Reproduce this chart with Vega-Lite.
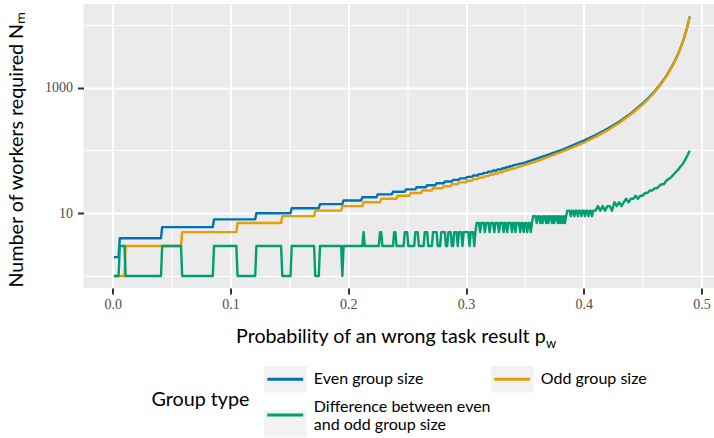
{
  "$schema": "https://vega.github.io/schema/vega-lite/v6.json",
  "width": 631,
  "height": 284,
  "autosize": {"type": "none"},
  "padding": {"left": 83.5, "top": 4, "right": 0, "bottom": 150},
  "background": "white",
  "config": {
    "view": {"fill": "#EBEBEB", "stroke": null},
    "font": "Lato",
    "legend": {
      "orient": "none",
      "legendX": 68,
      "legendY": 361.5,
      "columns": 2,
      "titleOrient": "left",
      "titleAnchor": "middle",
      "titleBaseline": "middle",
      "titleFont": "Lato",
      "titleFontSize": 19.7,
      "titleFontWeight": "normal",
      "titleColor": "black",
      "titlePadding": 14.5,
      "labelFont": "Lato",
      "labelFontSize": 16,
      "labelColor": "black",
      "labelLimit": 400,
      "labelOffset": 15.05,
      "symbolSize": 538,
      "symbolStrokeWidth": 3,
      "symbolOffset": 7.75,
      "columnPadding": -8,
      "rowPadding": 11
    }
  },
  "data": {
    "values": [
      {"p": 0.001, "N": 2, "group": "even"}, {"p": 0.005, "N": 2, "group": "even"},
      {"p": 0.006, "N": 4, "group": "even"}, {"p": 0.041, "N": 4, "group": "even"},
      {"p": 0.042, "N": 6, "group": "even"}, {"p": 0.085, "N": 6, "group": "even"},
      {"p": 0.086, "N": 8, "group": "even"}, {"p": 0.121, "N": 8, "group": "even"},
      {"p": 0.122, "N": 10, "group": "even"}, {"p": 0.151, "N": 10, "group": "even"},
      {"p": 0.152, "N": 12, "group": "even"}, {"p": 0.175, "N": 12, "group": "even"},
      {"p": 0.176, "N": 14, "group": "even"}, {"p": 0.195, "N": 14, "group": "even"},
      {"p": 0.196, "N": 16, "group": "even"}, {"p": 0.211, "N": 16, "group": "even"},
      {"p": 0.212, "N": 18, "group": "even"}, {"p": 0.224, "N": 18, "group": "even"},
      {"p": 0.225, "N": 20, "group": "even"}, {"p": 0.237, "N": 20, "group": "even"},
      {"p": 0.238, "N": 22, "group": "even"}, {"p": 0.248, "N": 22, "group": "even"},
      {"p": 0.249, "N": 24, "group": "even"}, {"p": 0.257, "N": 24, "group": "even"},
      {"p": 0.258, "N": 26, "group": "even"}, {"p": 0.266, "N": 26, "group": "even"},
      {"p": 0.267, "N": 28, "group": "even"}, {"p": 0.274, "N": 28, "group": "even"},
      {"p": 0.275, "N": 30, "group": "even"}, {"p": 0.281, "N": 30, "group": "even"},
      {"p": 0.282, "N": 32, "group": "even"}, {"p": 0.288, "N": 32, "group": "even"},
      {"p": 0.289, "N": 34, "group": "even"}, {"p": 0.294, "N": 34, "group": "even"},
      {"p": 0.295, "N": 36, "group": "even"}, {"p": 0.3, "N": 36, "group": "even"},
      {"p": 0.301, "N": 38, "group": "even"}, {"p": 0.305, "N": 38, "group": "even"},
      {"p": 0.306, "N": 40, "group": "even"}, {"p": 0.31, "N": 40, "group": "even"},
      {"p": 0.311, "N": 42, "group": "even"}, {"p": 0.314, "N": 42, "group": "even"},
      {"p": 0.315, "N": 44, "group": "even"}, {"p": 0.318, "N": 44, "group": "even"},
      {"p": 0.319, "N": 46, "group": "even"}, {"p": 0.322, "N": 46, "group": "even"},
      {"p": 0.323, "N": 48, "group": "even"}, {"p": 0.326, "N": 48, "group": "even"},
      {"p": 0.327, "N": 50, "group": "even"}, {"p": 0.33, "N": 50, "group": "even"},
      {"p": 0.331, "N": 52, "group": "even"}, {"p": 0.333, "N": 52, "group": "even"},
      {"p": 0.334, "N": 54, "group": "even"}, {"p": 0.336, "N": 54, "group": "even"},
      {"p": 0.337, "N": 56, "group": "even"}, {"p": 0.339, "N": 56, "group": "even"},
      {"p": 0.34, "N": 58, "group": "even"},
      {"p": 0.35, "N": 64, "group": "even"},
      {"p": 0.36, "N": 74, "group": "even"},
      {"p": 0.37, "N": 86, "group": "even"},
      {"p": 0.38, "N": 100, "group": "even"},
      {"p": 0.39, "N": 120, "group": "even"},
      {"p": 0.4, "N": 144, "group": "even"},
      {"p": 0.41, "N": 176, "group": "even"},
      {"p": 0.42, "N": 222, "group": "even"},
      {"p": 0.43, "N": 288, "group": "even"},
      {"p": 0.44, "N": 390, "group": "even"},
      {"p": 0.45, "N": 560, "group": "even"},
      {"p": 0.455, "N": 688, "group": "even"},
      {"p": 0.46, "N": 868, "group": "even"},
      {"p": 0.465, "N": 1132, "group": "even"},
      {"p": 0.47, "N": 1534, "group": "even"},
      {"p": 0.475, "N": 2202, "group": "even"},
      {"p": 0.4775, "N": 2716, "group": "even"},
      {"p": 0.48, "N": 3430, "group": "even"},
      {"p": 0.4825, "N": 4474, "group": "even"},
      {"p": 0.485, "N": 6078, "group": "even"},
      {"p": 0.4875, "N": 8736, "group": "even"},
      {"p": 0.49, "N": 13628, "group": "even"},

      {"p": 0.001, "N": 1, "group": "odd"}, {"p": 0.01, "N": 1, "group": "odd"},
      {"p": 0.011, "N": 3, "group": "odd"}, {"p": 0.058, "N": 3, "group": "odd"},
      {"p": 0.059, "N": 5, "group": "odd"}, {"p": 0.105, "N": 5, "group": "odd"},
      {"p": 0.106, "N": 7, "group": "odd"}, {"p": 0.143, "N": 7, "group": "odd"},
      {"p": 0.144, "N": 9, "group": "odd"}, {"p": 0.171, "N": 9, "group": "odd"},
      {"p": 0.172, "N": 11, "group": "odd"}, {"p": 0.194, "N": 11, "group": "odd"},
      {"p": 0.195, "N": 13, "group": "odd"}, {"p": 0.212, "N": 13, "group": "odd"},
      {"p": 0.213, "N": 15, "group": "odd"}, {"p": 0.227, "N": 15, "group": "odd"},
      {"p": 0.228, "N": 17, "group": "odd"}, {"p": 0.241, "N": 17, "group": "odd"},
      {"p": 0.242, "N": 19, "group": "odd"}, {"p": 0.252, "N": 19, "group": "odd"},
      {"p": 0.253, "N": 21, "group": "odd"}, {"p": 0.262, "N": 21, "group": "odd"},
      {"p": 0.263, "N": 23, "group": "odd"}, {"p": 0.271, "N": 23, "group": "odd"},
      {"p": 0.272, "N": 25, "group": "odd"}, {"p": 0.28, "N": 25, "group": "odd"},
      {"p": 0.281, "N": 27, "group": "odd"}, {"p": 0.287, "N": 27, "group": "odd"},
      {"p": 0.288, "N": 29, "group": "odd"}, {"p": 0.293, "N": 29, "group": "odd"},
      {"p": 0.294, "N": 31, "group": "odd"}, {"p": 0.3, "N": 31, "group": "odd"},
      {"p": 0.301, "N": 33, "group": "odd"}, {"p": 0.305, "N": 33, "group": "odd"},
      {"p": 0.306, "N": 35, "group": "odd"}, {"p": 0.31, "N": 35, "group": "odd"},
      {"p": 0.311, "N": 37, "group": "odd"}, {"p": 0.315, "N": 37, "group": "odd"},
      {"p": 0.316, "N": 39, "group": "odd"}, {"p": 0.319, "N": 39, "group": "odd"},
      {"p": 0.32, "N": 41, "group": "odd"}, {"p": 0.323, "N": 41, "group": "odd"},
      {"p": 0.324, "N": 43, "group": "odd"}, {"p": 0.327, "N": 43, "group": "odd"},
      {"p": 0.328, "N": 45, "group": "odd"}, {"p": 0.331, "N": 45, "group": "odd"},
      {"p": 0.332, "N": 47, "group": "odd"}, {"p": 0.334, "N": 47, "group": "odd"},
      {"p": 0.335, "N": 49, "group": "odd"}, {"p": 0.337, "N": 49, "group": "odd"},
      {"p": 0.338, "N": 51, "group": "odd"}, {"p": 0.34, "N": 51, "group": "odd"},
      {"p": 0.35, "N": 59, "group": "odd"},
      {"p": 0.36, "N": 67, "group": "odd"},
      {"p": 0.37, "N": 79, "group": "odd"},
      {"p": 0.38, "N": 93, "group": "odd"},
      {"p": 0.39, "N": 111, "group": "odd"},
      {"p": 0.4, "N": 133, "group": "odd"},
      {"p": 0.41, "N": 165, "group": "odd"},
      {"p": 0.42, "N": 209, "group": "odd"},
      {"p": 0.43, "N": 275, "group": "odd"},
      {"p": 0.44, "N": 375, "group": "odd"},
      {"p": 0.45, "N": 539, "group": "odd"},
      {"p": 0.455, "N": 667, "group": "odd"},
      {"p": 0.46, "N": 845, "group": "odd"},
      {"p": 0.465, "N": 1103, "group": "odd"},
      {"p": 0.47, "N": 1501, "group": "odd"},
      {"p": 0.475, "N": 2163, "group": "odd"},
      {"p": 0.4775, "N": 2671, "group": "odd"},
      {"p": 0.48, "N": 3381, "group": "odd"},
      {"p": 0.4825, "N": 4417, "group": "odd"},
      {"p": 0.485, "N": 6011, "group": "odd"},
      {"p": 0.4875, "N": 8657, "group": "odd"},
      {"p": 0.49, "N": 13527, "group": "odd"},

      {"p": 0.001, "N": 1, "group": "diff"}, {"p": 0.005, "N": 1, "group": "diff"},
      {"p": 0.006, "N": 3, "group": "diff"}, {"p": 0.01, "N": 3, "group": "diff"},
      {"p": 0.011, "N": 1, "group": "diff"}, {"p": 0.041, "N": 1, "group": "diff"},
      {"p": 0.042, "N": 3, "group": "diff"}, {"p": 0.058, "N": 3, "group": "diff"},
      {"p": 0.059, "N": 1, "group": "diff"}, {"p": 0.085, "N": 1, "group": "diff"},
      {"p": 0.086, "N": 3, "group": "diff"}, {"p": 0.105, "N": 3, "group": "diff"},
      {"p": 0.106, "N": 1, "group": "diff"}, {"p": 0.121, "N": 1, "group": "diff"},
      {"p": 0.122, "N": 3, "group": "diff"}, {"p": 0.143, "N": 3, "group": "diff"},
      {"p": 0.144, "N": 1, "group": "diff"}, {"p": 0.151, "N": 1, "group": "diff"},
      {"p": 0.152, "N": 3, "group": "diff"}, {"p": 0.171, "N": 3, "group": "diff"},
      {"p": 0.172, "N": 1, "group": "diff"}, {"p": 0.175, "N": 1, "group": "diff"},
      {"p": 0.176, "N": 3, "group": "diff"}, {"p": 0.194, "N": 3, "group": "diff"},
      {"p": 0.195, "N": 1, "group": "diff"}, {"p": 0.196, "N": 3, "group": "diff"},
      {"p": 0.212, "N": 3, "group": "diff"}, {"p": 0.213, "N": 5, "group": "diff"}, {"p": 0.214, "N": 3, "group": "diff"},
      {"p": 0.226, "N": 3, "group": "diff"}, {"p": 0.227, "N": 5, "group": "diff"}, {"p": 0.228, "N": 5, "group": "diff"}, {"p": 0.229, "N": 3, "group": "diff"},
      {"p": 0.238, "N": 3, "group": "diff"}, {"p": 0.239, "N": 5, "group": "diff"}, {"p": 0.24, "N": 5, "group": "diff"}, {"p": 0.241, "N": 3, "group": "diff"},
      {"p": 0.247, "N": 3, "group": "diff"}, {"p": 0.248, "N": 5, "group": "diff"}, {"p": 0.25, "N": 5, "group": "diff"}, {"p": 0.251, "N": 3, "group": "diff"},
      {"p": 0.256, "N": 3, "group": "diff"}, {"p": 0.257, "N": 5, "group": "diff"}, {"p": 0.259, "N": 5, "group": "diff"}, {"p": 0.26, "N": 3, "group": "diff"},
      {"p": 0.264, "N": 3, "group": "diff"}, {"p": 0.265, "N": 5, "group": "diff"}, {"p": 0.267, "N": 5, "group": "diff"}, {"p": 0.268, "N": 3, "group": "diff"},
      {"p": 0.271, "N": 3, "group": "diff"}, {"p": 0.272, "N": 5, "group": "diff"}, {"p": 0.275, "N": 5, "group": "diff"}, {"p": 0.276, "N": 3, "group": "diff"},
      {"p": 0.278, "N": 3, "group": "diff"}, {"p": 0.279, "N": 5, "group": "diff"}, {"p": 0.282, "N": 5, "group": "diff"}, {"p": 0.283, "N": 3, "group": "diff"},
      {"p": 0.284, "N": 3, "group": "diff"}, {"p": 0.285, "N": 5, "group": "diff"}, {"p": 0.287, "N": 5, "group": "diff"}, {"p": 0.288, "N": 3, "group": "diff"},
      {"p": 0.289, "N": 3, "group": "diff"}, {"p": 0.29, "N": 5, "group": "diff"},
      {"p": 0.292, "N": 5, "group": "diff"}, {"p": 0.293, "N": 3, "group": "diff"}, {"p": 0.294, "N": 5, "group": "diff"},
      {"p": 0.296, "N": 5, "group": "diff"}, {"p": 0.297, "N": 3, "group": "diff"}, {"p": 0.298, "N": 5, "group": "diff"},
      {"p": 0.302, "N": 5, "group": "diff"}, {"p": 0.303, "N": 3, "group": "diff"}, {"p": 0.304, "N": 5, "group": "diff"},
      {"p": 0.306, "N": 5, "group": "diff"}, {"p": 0.307, "N": 3, "group": "diff"}, {"p": 0.308, "N": 5, "group": "diff"},
      {"p": 0.309, "N": 7, "group": "diff"},
      {"p": 0.311, "N": 7, "group": "diff"}, {"p": 0.312, "N": 5, "group": "diff"}, {"p": 0.313, "N": 7, "group": "diff"},
      {"p": 0.315, "N": 7, "group": "diff"}, {"p": 0.316, "N": 5, "group": "diff"}, {"p": 0.317, "N": 7, "group": "diff"},
      {"p": 0.319, "N": 7, "group": "diff"}, {"p": 0.32, "N": 5, "group": "diff"}, {"p": 0.321, "N": 7, "group": "diff"},
      {"p": 0.323, "N": 7, "group": "diff"}, {"p": 0.324, "N": 5, "group": "diff"}, {"p": 0.325, "N": 7, "group": "diff"},
      {"p": 0.327, "N": 7, "group": "diff"}, {"p": 0.328, "N": 5, "group": "diff"}, {"p": 0.329, "N": 7, "group": "diff"},
      {"p": 0.331, "N": 7, "group": "diff"}, {"p": 0.332, "N": 5, "group": "diff"}, {"p": 0.333, "N": 7, "group": "diff"},
      {"p": 0.334, "N": 7, "group": "diff"}, {"p": 0.335, "N": 5, "group": "diff"}, {"p": 0.336, "N": 7, "group": "diff"},
      {"p": 0.338, "N": 7, "group": "diff"}, {"p": 0.339, "N": 5, "group": "diff"}, {"p": 0.34, "N": 7, "group": "diff"},
      {"p": 0.341, "N": 7, "group": "diff"}, {"p": 0.342, "N": 5, "group": "diff"}, {"p": 0.343, "N": 7, "group": "diff"},
      {"p": 0.345, "N": 7, "group": "diff"}, {"p": 0.346, "N": 5, "group": "diff"}, {"p": 0.347, "N": 7, "group": "diff"},
      {"p": 0.348, "N": 7, "group": "diff"}, {"p": 0.349, "N": 5, "group": "diff"}, {"p": 0.35, "N": 7, "group": "diff"},
      {"p": 0.351, "N": 7, "group": "diff"}, {"p": 0.352, "N": 5, "group": "diff"}, {"p": 0.353, "N": 7, "group": "diff"},
      {"p": 0.354, "N": 7, "group": "diff"}, {"p": 0.355, "N": 5, "group": "diff"}, {"p": 0.356, "N": 7, "group": "diff"},
      {"p": 0.357, "N": 9, "group": "diff"},
      {"p": 0.359, "N": 9, "group": "diff"}, {"p": 0.36, "N": 7, "group": "diff"}, {"p": 0.361, "N": 9, "group": "diff"},
      {"p": 0.362, "N": 9, "group": "diff"}, {"p": 0.363, "N": 7, "group": "diff"}, {"p": 0.364, "N": 9, "group": "diff"},
      {"p": 0.365, "N": 7, "group": "diff"}, {"p": 0.366, "N": 9, "group": "diff"},
      {"p": 0.367, "N": 9, "group": "diff"}, {"p": 0.368, "N": 7, "group": "diff"}, {"p": 0.369, "N": 9, "group": "diff"},
      {"p": 0.37, "N": 7, "group": "diff"}, {"p": 0.371, "N": 9, "group": "diff"},
      {"p": 0.372, "N": 9, "group": "diff"}, {"p": 0.373, "N": 7, "group": "diff"}, {"p": 0.374, "N": 9, "group": "diff"},
      {"p": 0.375, "N": 7, "group": "diff"}, {"p": 0.376, "N": 9, "group": "diff"},
      {"p": 0.377, "N": 9, "group": "diff"}, {"p": 0.378, "N": 7, "group": "diff"}, {"p": 0.379, "N": 9, "group": "diff"},
      {"p": 0.38, "N": 7, "group": "diff"}, {"p": 0.381, "N": 9, "group": "diff"},
      {"p": 0.382, "N": 7, "group": "diff"}, {"p": 0.383, "N": 9, "group": "diff"},
      {"p": 0.384, "N": 7, "group": "diff"}, {"p": 0.385, "N": 9, "group": "diff"},
      {"p": 0.386, "N": 11, "group": "diff"},
      {"p": 0.388, "N": 11, "group": "diff"}, {"p": 0.389, "N": 9, "group": "diff"}, {"p": 0.39, "N": 11, "group": "diff"},
      {"p": 0.391, "N": 11, "group": "diff"}, {"p": 0.392, "N": 9, "group": "diff"}, {"p": 0.393, "N": 11, "group": "diff"},
      {"p": 0.394, "N": 11, "group": "diff"}, {"p": 0.395, "N": 9, "group": "diff"}, {"p": 0.396, "N": 11, "group": "diff"},
      {"p": 0.397, "N": 11, "group": "diff"}, {"p": 0.398, "N": 9, "group": "diff"}, {"p": 0.399, "N": 11, "group": "diff"},
      {"p": 0.4, "N": 11, "group": "diff"}, {"p": 0.401, "N": 9, "group": "diff"}, {"p": 0.402, "N": 11, "group": "diff"},
      {"p": 0.403, "N": 11, "group": "diff"}, {"p": 0.404, "N": 9, "group": "diff"}, {"p": 0.405, "N": 11, "group": "diff"},
      {"p": 0.406, "N": 11, "group": "diff"}, {"p": 0.407, "N": 9, "group": "diff"}, {"p": 0.408, "N": 11, "group": "diff"},
      {"p": 0.41, "N": 11, "group": "diff"},
      {"p": 0.412, "N": 13, "group": "diff"},
      {"p": 0.414, "N": 11, "group": "diff"},
      {"p": 0.416, "N": 13, "group": "diff"},
      {"p": 0.418, "N": 11, "group": "diff"},
      {"p": 0.42, "N": 13, "group": "diff"},
      {"p": 0.422, "N": 13, "group": "diff"},
      {"p": 0.424, "N": 11, "group": "diff"},
      {"p": 0.426, "N": 15, "group": "diff"},
      {"p": 0.428, "N": 13, "group": "diff"},
      {"p": 0.43, "N": 15, "group": "diff"},
      {"p": 0.432, "N": 13, "group": "diff"},
      {"p": 0.434, "N": 15, "group": "diff"},
      {"p": 0.436, "N": 17, "group": "diff"},
      {"p": 0.438, "N": 15, "group": "diff"},
      {"p": 0.44, "N": 17, "group": "diff"},
      {"p": 0.442, "N": 17, "group": "diff"},
      {"p": 0.444, "N": 19, "group": "diff"},
      {"p": 0.446, "N": 17, "group": "diff"},
      {"p": 0.448, "N": 19, "group": "diff"},
      {"p": 0.45, "N": 19, "group": "diff"},
      {"p": 0.452, "N": 21, "group": "diff"},
      {"p": 0.454, "N": 21, "group": "diff"},
      {"p": 0.456, "N": 23, "group": "diff"},
      {"p": 0.458, "N": 23, "group": "diff"},
      {"p": 0.46, "N": 25, "group": "diff"},
      {"p": 0.462, "N": 25, "group": "diff"},
      {"p": 0.464, "N": 27, "group": "diff"},
      {"p": 0.466, "N": 29, "group": "diff"},
      {"p": 0.468, "N": 29, "group": "diff"},
      {"p": 0.47, "N": 33, "group": "diff"},
      {"p": 0.472, "N": 35, "group": "diff"},
      {"p": 0.474, "N": 37, "group": "diff"},
      {"p": 0.476, "N": 41, "group": "diff"},
      {"p": 0.478, "N": 45, "group": "diff"},
      {"p": 0.48, "N": 49, "group": "diff"},
      {"p": 0.482, "N": 55, "group": "diff"},
      {"p": 0.484, "N": 61, "group": "diff"},
      {"p": 0.486, "N": 71, "group": "diff"},
      {"p": 0.488, "N": 83, "group": "diff"},
      {"p": 0.49, "N": 99, "group": "diff"}
    ]
  },
  "layer": [
    {
      "mark": {"type": "line", "interpolate": "linear", "strokeWidth": 2.4, "strokeCap": "butt", "strokeJoin": "round"},
      "encoding": {
        "x": {
          "field": "p",
          "type": "quantitative",
          "scale": {"domain": [-0.0248, 0.511], "nice": false, "zero": false},
          "axis": {
            "orient": "bottom",
            "values": [0, 0.05, 0.1, 0.15, 0.2, 0.25, 0.3, 0.35, 0.4, 0.45, 0.5],
            "labelExpr": "round(datum.value * 20) % 2 == 0 ? format(datum.value, '.1f') : ''",
            "labelFlush": false,
            "labelOverlap": false,
            "labelFont": "Liberation Serif",
            "labelFontSize": 14,
            "labelColor": "#4D4D4D",
            "labelPadding": 3,
            "domain": false,
            "grid": true,
            "gridColor": "white",
            "gridWidth": {"condition": {"test": "round(datum.value * 20) % 2 == 0", "value": 2}, "value": 1},
            "ticks": true,
            "tickSize": 6,
            "tickWidth": 2,
            "tickColor": "#333333",
            "tickOpacity": {"condition": {"test": "round(datum.value * 20) % 2 == 0", "value": 1}, "value": 0},
            "title": "Probability of an wrong task result p",
            "titleFont": "Lato",
            "titleFontSize": 19.7,
            "titleFontWeight": "normal",
            "titleColor": "black",
            "titleAlign": "left",
            "titleBaseline": "alphabetic",
            "titleX": 152,
            "titleY": 54.5
          }
        },
        "y": {
          "field": "N",
          "type": "quantitative",
          "scale": {"type": "log", "domain": [0.644, 21600], "nice": false, "zero": false},
          "axis": {
            "values": [1, 10, 100, 1000, 10000],
            "labelExpr": "datum.value == 10 || datum.value == 1000 ? format(datum.value, 'd') : ''",
            "labelOverlap": false,
            "labelFont": "Liberation Serif",
            "labelFontSize": 14,
            "labelColor": "#4D4D4D",
            "labelPadding": 5,
            "domain": false,
            "grid": true,
            "gridColor": "white",
            "gridWidth": {"condition": {"test": "datum.value == 10 || datum.value == 1000", "value": 2}, "value": 1},
            "tickSize": 6,
            "tickWidth": 2,
            "tickColor": "#333333",
            "tickOpacity": {"condition": {"test": "datum.value == 10 || datum.value == 1000", "value": 1}, "value": 0},
            "title": "Number of workers required Nₘ",
            "titleFont": "Lato",
            "titleFontSize": 19.7,
            "titleFontWeight": "normal",
            "titleColor": "black",
            "titleAngle": 270,
            "titleAlign": "left",
            "titleBaseline": "alphabetic",
            "titleX": -61,
            "titleY": 283
          }
        },
        "color": {
          "field": "group",
          "type": "nominal",
          "sort": ["even", "diff", "odd"],
          "scale": {"range": ["#0072B2", "#009E73", "#E69F00"]},
          "legend": {
            "title": "Group type",
            "zindex": 1,
            "labelExpr": "datum.label == 'even' ? 'Even group size' : datum.label == 'odd' ? 'Odd group size' : ['Difference between even', 'and odd group size']",
            "symbolType": "M-1.55,0H1.55",
            "encode": {
              "labels": {"update": {"dy": {"signal": "datum.value == 'diff' ? -8.5 : 0"}}}
            }
          }
        },
        "opacity": {
          "field": "group",
          "type": "nominal",
          "scale": {"domain": ["even", "diff", "odd"], "range": [1, 1, 1]},
          "legend": {
            "title": "Group type",
            "zindex": 0,
            "rowPadding": 6,
            "titleOpacity": 0,
            "labelOpacity": 0,
            "labelExpr": "datum.label == 'even' ? 'Even group size' : datum.label == 'odd' ? 'Odd group size' : ['Difference between even', 'and odd group size']",
            "symbolType": "M-1.84,-1.15H1.84V1.15H-1.84Z",
            "encode": {
              "symbols": {"update": {"fill": {"value": "#F2F2F2"}, "fillOpacity": {"value": 1}, "stroke": {"value": "transparent"}, "opacity": {"value": 1}}},
              "labels": {"update": {"dy": {"signal": "datum.value == 'diff' ? -8.5 : 0"}}}
            }
          }
        }
      }
    },
    {
      "mark": {"type": "point", "opacity": 0},
      "encoding": {
        "x": {
          "field": "p",
          "type": "quantitative",
          "axis": {
            "orient": "bottom",
            "grid": false, "ticks": false, "labels": false, "domain": false,
            "title": "w",
            "titleFont": "Lato",
            "titleFontSize": 13,
            "titleFontWeight": "normal",
            "titleColor": "black",
            "titleAlign": "left",
            "titleBaseline": "alphabetic",
            "titleX": 462,
            "titleY": 59
          }
        }
      }
    }
  ],
  "resolve": {"axis": {"x": "independent"}}
}
